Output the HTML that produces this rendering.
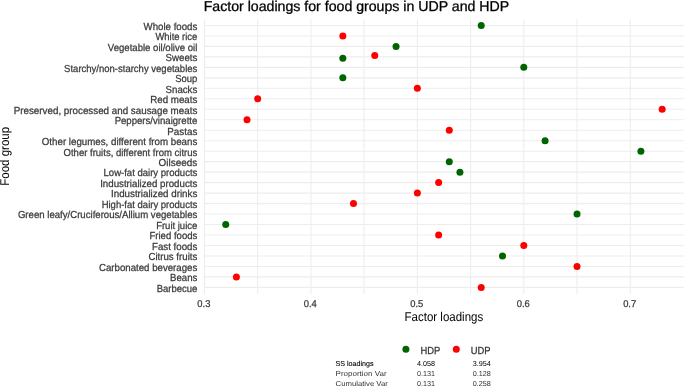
<!DOCTYPE html>
<html><head><meta charset="utf-8"><style>
html,body{margin:0;padding:0;background:#fff;width:685px;height:387px;overflow:hidden}
svg{display:block;font-family:"Liberation Sans",sans-serif;will-change:transform;filter:blur(0.3px)}
text{text-rendering:geometricPrecision}
.t{stroke:#3a3a3a;stroke-width:0.25px}
.b{stroke:#000;stroke-width:0.12px}
</style></head><body>
<svg width="685" height="387" viewBox="0 0 685 387">
<line x1="204.45" y1="19.16" x2="204.45" y2="293.69" stroke="#EDEDED" stroke-width="1.1"/>
<line x1="257.67" y1="19.16" x2="257.67" y2="293.69" stroke="#EDEDED" stroke-width="1.1"/>
<line x1="310.90" y1="19.16" x2="310.90" y2="293.69" stroke="#EDEDED" stroke-width="1.1"/>
<line x1="364.12" y1="19.16" x2="364.12" y2="293.69" stroke="#EDEDED" stroke-width="1.1"/>
<line x1="417.35" y1="19.16" x2="417.35" y2="293.69" stroke="#EDEDED" stroke-width="1.1"/>
<line x1="470.58" y1="19.16" x2="470.58" y2="293.69" stroke="#EDEDED" stroke-width="1.1"/>
<line x1="523.80" y1="19.16" x2="523.80" y2="293.69" stroke="#EDEDED" stroke-width="1.1"/>
<line x1="577.03" y1="19.16" x2="577.03" y2="293.69" stroke="#EDEDED" stroke-width="1.1"/>
<line x1="630.25" y1="19.16" x2="630.25" y2="293.69" stroke="#EDEDED" stroke-width="1.1"/>
<line x1="203.92" y1="25.45" x2="684.01" y2="25.45" stroke="#EDEDED" stroke-width="1.1"/>
<line x1="203.92" y1="35.93" x2="684.01" y2="35.93" stroke="#EDEDED" stroke-width="1.1"/>
<line x1="203.92" y1="46.41" x2="684.01" y2="46.41" stroke="#EDEDED" stroke-width="1.1"/>
<line x1="203.92" y1="56.88" x2="684.01" y2="56.88" stroke="#EDEDED" stroke-width="1.1"/>
<line x1="203.92" y1="67.36" x2="684.01" y2="67.36" stroke="#EDEDED" stroke-width="1.1"/>
<line x1="203.92" y1="77.84" x2="684.01" y2="77.84" stroke="#EDEDED" stroke-width="1.1"/>
<line x1="203.92" y1="88.32" x2="684.01" y2="88.32" stroke="#EDEDED" stroke-width="1.1"/>
<line x1="203.92" y1="98.80" x2="684.01" y2="98.80" stroke="#EDEDED" stroke-width="1.1"/>
<line x1="203.92" y1="109.27" x2="684.01" y2="109.27" stroke="#EDEDED" stroke-width="1.1"/>
<line x1="203.92" y1="119.75" x2="684.01" y2="119.75" stroke="#EDEDED" stroke-width="1.1"/>
<line x1="203.92" y1="130.23" x2="684.01" y2="130.23" stroke="#EDEDED" stroke-width="1.1"/>
<line x1="203.92" y1="140.71" x2="684.01" y2="140.71" stroke="#EDEDED" stroke-width="1.1"/>
<line x1="203.92" y1="151.19" x2="684.01" y2="151.19" stroke="#EDEDED" stroke-width="1.1"/>
<line x1="203.92" y1="161.66" x2="684.01" y2="161.66" stroke="#EDEDED" stroke-width="1.1"/>
<line x1="203.92" y1="172.14" x2="684.01" y2="172.14" stroke="#EDEDED" stroke-width="1.1"/>
<line x1="203.92" y1="182.62" x2="684.01" y2="182.62" stroke="#EDEDED" stroke-width="1.1"/>
<line x1="203.92" y1="193.10" x2="684.01" y2="193.10" stroke="#EDEDED" stroke-width="1.1"/>
<line x1="203.92" y1="203.58" x2="684.01" y2="203.58" stroke="#EDEDED" stroke-width="1.1"/>
<line x1="203.92" y1="214.05" x2="684.01" y2="214.05" stroke="#EDEDED" stroke-width="1.1"/>
<line x1="203.92" y1="224.53" x2="684.01" y2="224.53" stroke="#EDEDED" stroke-width="1.1"/>
<line x1="203.92" y1="235.01" x2="684.01" y2="235.01" stroke="#EDEDED" stroke-width="1.1"/>
<line x1="203.92" y1="245.49" x2="684.01" y2="245.49" stroke="#EDEDED" stroke-width="1.1"/>
<line x1="203.92" y1="255.97" x2="684.01" y2="255.97" stroke="#EDEDED" stroke-width="1.1"/>
<line x1="203.92" y1="266.44" x2="684.01" y2="266.44" stroke="#EDEDED" stroke-width="1.1"/>
<line x1="203.92" y1="276.92" x2="684.01" y2="276.92" stroke="#EDEDED" stroke-width="1.1"/>
<line x1="203.92" y1="287.40" x2="684.01" y2="287.40" stroke="#EDEDED" stroke-width="1.1"/>
<circle cx="481.22" cy="25.45" r="3.5" fill="#006400"/>
<circle cx="342.83" cy="35.93" r="3.5" fill="#FF0000"/>
<circle cx="396.06" cy="46.41" r="3.5" fill="#006400"/>
<circle cx="342.83" cy="58.33" r="3.5" fill="#006400"/>
<circle cx="374.77" cy="55.43" r="3.5" fill="#FF0000"/>
<circle cx="523.80" cy="67.36" r="3.5" fill="#006400"/>
<circle cx="342.83" cy="77.84" r="3.5" fill="#006400"/>
<circle cx="417.35" cy="88.32" r="3.5" fill="#FF0000"/>
<circle cx="257.67" cy="98.80" r="3.5" fill="#FF0000"/>
<circle cx="662.18" cy="109.27" r="3.5" fill="#FF0000"/>
<circle cx="247.03" cy="119.75" r="3.5" fill="#FF0000"/>
<circle cx="449.29" cy="130.23" r="3.5" fill="#FF0000"/>
<circle cx="545.09" cy="140.71" r="3.5" fill="#006400"/>
<circle cx="640.89" cy="151.19" r="3.5" fill="#006400"/>
<circle cx="449.29" cy="161.66" r="3.5" fill="#006400"/>
<circle cx="459.93" cy="172.14" r="3.5" fill="#006400"/>
<circle cx="438.64" cy="182.62" r="3.5" fill="#FF0000"/>
<circle cx="417.35" cy="193.10" r="3.5" fill="#FF0000"/>
<circle cx="353.48" cy="203.58" r="3.5" fill="#FF0000"/>
<circle cx="577.03" cy="214.05" r="3.5" fill="#006400"/>
<circle cx="225.74" cy="224.53" r="3.5" fill="#006400"/>
<circle cx="438.64" cy="235.01" r="3.5" fill="#FF0000"/>
<circle cx="523.80" cy="245.49" r="3.5" fill="#FF0000"/>
<circle cx="502.51" cy="255.97" r="3.5" fill="#006400"/>
<circle cx="577.03" cy="266.44" r="3.5" fill="#FF0000"/>
<circle cx="236.39" cy="276.92" r="3.5" fill="#FF0000"/>
<circle cx="481.22" cy="287.40" r="3.5" fill="#FF0000"/>
<text transform="translate(197.3,29.80) scale(1,1.05)" text-anchor="end" font-size="9.7" fill="#3a3a3a" class="t" textLength="53.69" lengthAdjust="spacingAndGlyphs">Whole foods</text>
<text transform="translate(197.3,40.28) scale(1,1.05)" text-anchor="end" font-size="9.7" fill="#3a3a3a" class="t" textLength="41.90" lengthAdjust="spacingAndGlyphs">White rice</text>
<text transform="translate(197.3,50.76) scale(1,1.05)" text-anchor="end" font-size="9.7" fill="#3a3a3a" class="t" textLength="89.53" lengthAdjust="spacingAndGlyphs">Vegetable oil/olive oil</text>
<text transform="translate(197.3,61.23) scale(1,1.05)" text-anchor="end" font-size="9.7" fill="#3a3a3a" class="t" textLength="31.78" lengthAdjust="spacingAndGlyphs">Sweets</text>
<text transform="translate(197.3,71.71) scale(1,1.05)" text-anchor="end" font-size="9.7" fill="#3a3a3a" class="t" textLength="133.19" lengthAdjust="spacingAndGlyphs">Starchy/non-starchy vegetables</text>
<text transform="translate(197.3,82.19) scale(1,1.05)" text-anchor="end" font-size="9.7" fill="#3a3a3a" class="t" textLength="22.12" lengthAdjust="spacingAndGlyphs">Soup</text>
<text transform="translate(197.3,92.67) scale(1,1.05)" text-anchor="end" font-size="9.7" fill="#3a3a3a" class="t" textLength="31.78" lengthAdjust="spacingAndGlyphs">Snacks</text>
<text transform="translate(197.3,103.15) scale(1,1.05)" text-anchor="end" font-size="9.7" fill="#3a3a3a" class="t" textLength="47.05" lengthAdjust="spacingAndGlyphs">Red meats</text>
<text transform="translate(197.3,113.62) scale(1,1.05)" text-anchor="end" font-size="9.7" fill="#3a3a3a" class="t" textLength="183.59" lengthAdjust="spacingAndGlyphs">Preserved, processed and sausage meats</text>
<text transform="translate(197.3,124.10) scale(1,1.05)" text-anchor="end" font-size="9.7" fill="#3a3a3a" class="t" textLength="82.68" lengthAdjust="spacingAndGlyphs">Peppers/vinaigrette</text>
<text transform="translate(197.3,134.58) scale(1,1.05)" text-anchor="end" font-size="9.7" fill="#3a3a3a" class="t" textLength="30.00" lengthAdjust="spacingAndGlyphs">Pastas</text>
<text transform="translate(197.3,145.06) scale(1,1.05)" text-anchor="end" font-size="9.7" fill="#3a3a3a" class="t" textLength="155.50" lengthAdjust="spacingAndGlyphs">Other legumes, different from beans</text>
<text transform="translate(197.3,155.54) scale(1,1.05)" text-anchor="end" font-size="9.7" fill="#3a3a3a" class="t" textLength="133.79" lengthAdjust="spacingAndGlyphs">Other fruits, different from citrus</text>
<text transform="translate(197.3,166.01) scale(1,1.05)" text-anchor="end" font-size="9.7" fill="#3a3a3a" class="t" textLength="38.71" lengthAdjust="spacingAndGlyphs">Oilseeds</text>
<text transform="translate(197.3,176.49) scale(1,1.05)" text-anchor="end" font-size="9.7" fill="#3a3a3a" class="t" textLength="93.78" lengthAdjust="spacingAndGlyphs">Low-fat dairy products</text>
<text transform="translate(197.3,186.97) scale(1,1.05)" text-anchor="end" font-size="9.7" fill="#3a3a3a" class="t" textLength="97.14" lengthAdjust="spacingAndGlyphs">Industrialized products</text>
<text transform="translate(197.3,197.45) scale(1,1.05)" text-anchor="end" font-size="9.7" fill="#3a3a3a" class="t" textLength="86.32" lengthAdjust="spacingAndGlyphs">Industrialized drinks</text>
<text transform="translate(197.3,207.93) scale(1,1.05)" text-anchor="end" font-size="9.7" fill="#3a3a3a" class="t" textLength="95.66" lengthAdjust="spacingAndGlyphs">High-fat dairy products</text>
<text transform="translate(197.3,218.40) scale(1,1.05)" text-anchor="end" font-size="9.7" fill="#3a3a3a" class="t" textLength="179.42" lengthAdjust="spacingAndGlyphs">Green leafy/Cruciferous/Allium vegetables</text>
<text transform="translate(197.3,228.88) scale(1,1.05)" text-anchor="end" font-size="9.7" fill="#3a3a3a" class="t" textLength="41.18" lengthAdjust="spacingAndGlyphs">Fruit juice</text>
<text transform="translate(197.3,239.36) scale(1,1.05)" text-anchor="end" font-size="9.7" fill="#3a3a3a" class="t" textLength="47.87" lengthAdjust="spacingAndGlyphs">Fried foods</text>
<text transform="translate(197.3,249.84) scale(1,1.05)" text-anchor="end" font-size="9.7" fill="#3a3a3a" class="t" textLength="45.30" lengthAdjust="spacingAndGlyphs">Fast foods</text>
<text transform="translate(197.3,260.32) scale(1,1.05)" text-anchor="end" font-size="9.7" fill="#3a3a3a" class="t" textLength="48.90" lengthAdjust="spacingAndGlyphs">Citrus fruits</text>
<text transform="translate(197.3,270.79) scale(1,1.05)" text-anchor="end" font-size="9.7" fill="#3a3a3a" class="t" textLength="98.36" lengthAdjust="spacingAndGlyphs">Carbonated beverages</text>
<text transform="translate(197.3,281.27) scale(1,1.05)" text-anchor="end" font-size="9.7" fill="#3a3a3a" class="t" textLength="27.27" lengthAdjust="spacingAndGlyphs">Beans</text>
<text transform="translate(197.3,291.75) scale(1,1.05)" text-anchor="end" font-size="9.7" fill="#3a3a3a" class="t" textLength="40.68" lengthAdjust="spacingAndGlyphs">Barbecue</text>
<text transform="translate(203.85,306.6) scale(1,1.05)" text-anchor="middle" font-size="9.4" fill="#3a3a3a" class="t">0.3</text>
<text transform="translate(310.30,306.6) scale(1,1.05)" text-anchor="middle" font-size="9.4" fill="#3a3a3a" class="t">0.4</text>
<text transform="translate(416.75,306.6) scale(1,1.05)" text-anchor="middle" font-size="9.4" fill="#3a3a3a" class="t">0.5</text>
<text transform="translate(523.20,306.6) scale(1,1.05)" text-anchor="middle" font-size="9.4" fill="#3a3a3a" class="t">0.6</text>
<text transform="translate(629.65,306.6) scale(1,1.05)" text-anchor="middle" font-size="9.4" fill="#3a3a3a" class="t">0.7</text>
<text transform="translate(443.90,321) scale(1,1.1)" text-anchor="middle" font-size="11.5" fill="#000">Factor loadings</text>
<text transform="translate(8.8,156.30) rotate(-90) scale(1,1.1)" text-anchor="middle" font-size="11.5" fill="#000">Food group</text>
<text x="203.7" y="10.9" font-size="14.15" fill="#000" stroke="#000" stroke-width="0.3">Factor loadings for food groups in UDP and HDP</text>
<circle cx="405.9" cy="349.2" r="3.5" fill="#006400"/>
<text transform="translate(420.4,353.65) scale(1,1.09)" font-size="9.4" fill="#333" class="t">HDP</text>
<circle cx="456.3" cy="349.2" r="3.5" fill="#FF0000"/>
<text transform="translate(470.7,353.65) scale(1,1.09)" font-size="9.4" fill="#333" class="t">UDP</text>
<text x="335.6" y="365.7" font-size="7.2" fill="#000" class="b" textLength="37.9" lengthAdjust="spacingAndGlyphs">SS loadings</text>
<text x="435" y="365.7" text-anchor="end" font-size="7.2" fill="#000">4.058</text>
<text x="490.8" y="365.7" text-anchor="end" font-size="7.2" fill="#000">3.954</text>
<text x="335.6" y="375.8" font-size="7.2" fill="#333" textLength="51.0" lengthAdjust="spacingAndGlyphs">Proportion Var</text>
<text x="435" y="375.8" text-anchor="end" font-size="7.2" fill="#333">0.131</text>
<text x="490.8" y="375.8" text-anchor="end" font-size="7.2" fill="#333">0.128</text>
<text x="335.6" y="385.7" font-size="7.2" fill="#333" textLength="52.2" lengthAdjust="spacingAndGlyphs">Cumulative Var</text>
<text x="435" y="385.7" text-anchor="end" font-size="7.2" fill="#333">0.131</text>
<text x="490.8" y="385.7" text-anchor="end" font-size="7.2" fill="#333">0.258</text>
</svg>
</body></html>
